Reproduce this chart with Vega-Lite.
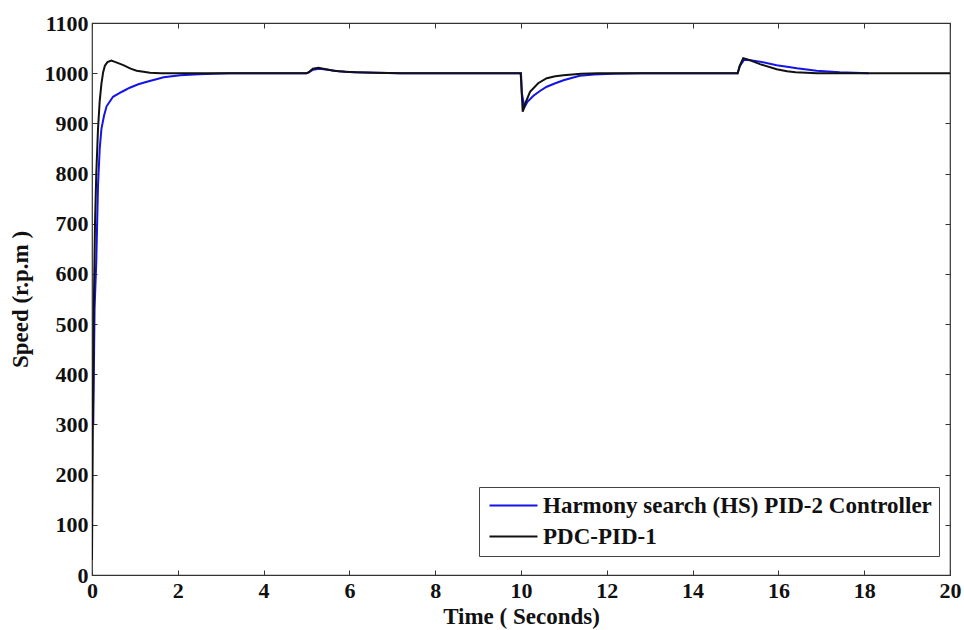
{
  "$schema": "https://vega.github.io/schema/vega-lite/v6.json",
  "width": 858,
  "height": 552,
  "autosize": {"type": "none"},
  "padding": {"left": 92, "top": 23, "right": 14, "bottom": 55},
  "background": "white",
  "config": {
    "view": {"stroke": "#333333", "strokeWidth": 1.2},
    "axis": {
      "labelFont": "Liberation Serif",
      "labelFontWeight": "bold",
      "labelFontSize": 22,
      "labelColor": "#111111",
      "titleFont": "Liberation Serif",
      "titleFontWeight": "bold",
      "titleFontSize": 23,
      "titleColor": "#111111",
      "grid": false,
      "domain": false,
      "tickColor": "#333333",
      "tickSize": -5,
      "tickWidth": 1,
      "format": "d"
    },
    "legend": {
      "labelFont": "Liberation Serif",
      "labelFontWeight": "bold",
      "labelFontSize": 23,
      "labelColor": "#111111",
      "labelLimit": 0
    }
  },
  "datasets": {
    "curves": [
      {"series": "Harmony search (HS) PID-2 Controller", "t": 0.03, "v": 300},
      {"series": "Harmony search (HS) PID-2 Controller", "t": 0.06, "v": 530},
      {"series": "Harmony search (HS) PID-2 Controller", "t": 0.10, "v": 626},
      {"series": "Harmony search (HS) PID-2 Controller", "t": 0.14, "v": 776},
      {"series": "Harmony search (HS) PID-2 Controller", "t": 0.18, "v": 850},
      {"series": "Harmony search (HS) PID-2 Controller", "t": 0.22, "v": 889},
      {"series": "Harmony search (HS) PID-2 Controller", "t": 0.28, "v": 915},
      {"series": "Harmony search (HS) PID-2 Controller", "t": 0.34, "v": 934},
      {"series": "Harmony search (HS) PID-2 Controller", "t": 0.49, "v": 953},
      {"series": "Harmony search (HS) PID-2 Controller", "t": 0.70, "v": 963},
      {"series": "Harmony search (HS) PID-2 Controller", "t": 0.88, "v": 971},
      {"series": "Harmony search (HS) PID-2 Controller", "t": 1.08, "v": 978},
      {"series": "Harmony search (HS) PID-2 Controller", "t": 1.28, "v": 983},
      {"series": "Harmony search (HS) PID-2 Controller", "t": 1.50, "v": 988},
      {"series": "Harmony search (HS) PID-2 Controller", "t": 1.67, "v": 992},
      {"series": "Harmony search (HS) PID-2 Controller", "t": 2.06, "v": 996},
      {"series": "Harmony search (HS) PID-2 Controller", "t": 2.50, "v": 998},
      {"series": "Harmony search (HS) PID-2 Controller", "t": 2.84, "v": 999},
      {"series": "Harmony search (HS) PID-2 Controller", "t": 3.20, "v": 1000},
      {"series": "Harmony search (HS) PID-2 Controller", "t": 5.00, "v": 1000},
      {"series": "Harmony search (HS) PID-2 Controller", "t": 5.05, "v": 1001},
      {"series": "Harmony search (HS) PID-2 Controller", "t": 5.15, "v": 1007},
      {"series": "Harmony search (HS) PID-2 Controller", "t": 5.30, "v": 1009},
      {"series": "Harmony search (HS) PID-2 Controller", "t": 5.50, "v": 1007},
      {"series": "Harmony search (HS) PID-2 Controller", "t": 5.75, "v": 1004},
      {"series": "Harmony search (HS) PID-2 Controller", "t": 6.10, "v": 1002},
      {"series": "Harmony search (HS) PID-2 Controller", "t": 6.60, "v": 1001},
      {"series": "Harmony search (HS) PID-2 Controller", "t": 7.20, "v": 1000},
      {"series": "Harmony search (HS) PID-2 Controller", "t": 10.00, "v": 1000},
      {"series": "Harmony search (HS) PID-2 Controller", "t": 10.02, "v": 960},
      {"series": "Harmony search (HS) PID-2 Controller", "t": 10.08, "v": 932},
      {"series": "Harmony search (HS) PID-2 Controller", "t": 10.15, "v": 943},
      {"series": "Harmony search (HS) PID-2 Controller", "t": 10.29, "v": 955},
      {"series": "Harmony search (HS) PID-2 Controller", "t": 10.45, "v": 965},
      {"series": "Harmony search (HS) PID-2 Controller", "t": 10.60, "v": 973},
      {"series": "Harmony search (HS) PID-2 Controller", "t": 10.80, "v": 980},
      {"series": "Harmony search (HS) PID-2 Controller", "t": 10.99, "v": 986},
      {"series": "Harmony search (HS) PID-2 Controller", "t": 11.20, "v": 991},
      {"series": "Harmony search (HS) PID-2 Controller", "t": 11.37, "v": 995},
      {"series": "Harmony search (HS) PID-2 Controller", "t": 11.70, "v": 997.5},
      {"series": "Harmony search (HS) PID-2 Controller", "t": 12.15, "v": 999},
      {"series": "Harmony search (HS) PID-2 Controller", "t": 12.80, "v": 1000},
      {"series": "Harmony search (HS) PID-2 Controller", "t": 15.05, "v": 1000},
      {"series": "Harmony search (HS) PID-2 Controller", "t": 15.10, "v": 1014},
      {"series": "Harmony search (HS) PID-2 Controller", "t": 15.20, "v": 1027},
      {"series": "Harmony search (HS) PID-2 Controller", "t": 15.35, "v": 1026},
      {"series": "Harmony search (HS) PID-2 Controller", "t": 15.57, "v": 1023},
      {"series": "Harmony search (HS) PID-2 Controller", "t": 15.96, "v": 1016},
      {"series": "Harmony search (HS) PID-2 Controller", "t": 16.20, "v": 1013},
      {"series": "Harmony search (HS) PID-2 Controller", "t": 16.43, "v": 1010},
      {"series": "Harmony search (HS) PID-2 Controller", "t": 16.89, "v": 1005},
      {"series": "Harmony search (HS) PID-2 Controller", "t": 17.43, "v": 1002},
      {"series": "Harmony search (HS) PID-2 Controller", "t": 18.10, "v": 1000},
      {"series": "PDC-PID-1", "t": 0.00, "v": 30},
      {"series": "PDC-PID-1", "t": 0.02, "v": 300},
      {"series": "PDC-PID-1", "t": 0.04, "v": 520},
      {"series": "PDC-PID-1", "t": 0.07, "v": 700},
      {"series": "PDC-PID-1", "t": 0.10, "v": 800},
      {"series": "PDC-PID-1", "t": 0.14, "v": 889},
      {"series": "PDC-PID-1", "t": 0.18, "v": 945},
      {"series": "PDC-PID-1", "t": 0.22, "v": 979},
      {"series": "PDC-PID-1", "t": 0.26, "v": 1002},
      {"series": "PDC-PID-1", "t": 0.30, "v": 1015},
      {"series": "PDC-PID-1", "t": 0.36, "v": 1022},
      {"series": "PDC-PID-1", "t": 0.45, "v": 1025},
      {"series": "PDC-PID-1", "t": 0.55, "v": 1022},
      {"series": "PDC-PID-1", "t": 0.73, "v": 1016},
      {"series": "PDC-PID-1", "t": 0.90, "v": 1009},
      {"series": "PDC-PID-1", "t": 1.04, "v": 1005},
      {"series": "PDC-PID-1", "t": 1.20, "v": 1003},
      {"series": "PDC-PID-1", "t": 1.35, "v": 1001},
      {"series": "PDC-PID-1", "t": 1.60, "v": 1000},
      {"series": "PDC-PID-1", "t": 5.00, "v": 1000},
      {"series": "PDC-PID-1", "t": 5.05, "v": 1002},
      {"series": "PDC-PID-1", "t": 5.15, "v": 1009},
      {"series": "PDC-PID-1", "t": 5.28, "v": 1011},
      {"series": "PDC-PID-1", "t": 5.45, "v": 1008},
      {"series": "PDC-PID-1", "t": 5.63, "v": 1005},
      {"series": "PDC-PID-1", "t": 5.90, "v": 1003},
      {"series": "PDC-PID-1", "t": 6.17, "v": 1002},
      {"series": "PDC-PID-1", "t": 6.60, "v": 1001},
      {"series": "PDC-PID-1", "t": 7.20, "v": 1000},
      {"series": "PDC-PID-1", "t": 9.99, "v": 1000},
      {"series": "PDC-PID-1", "t": 10.00, "v": 990},
      {"series": "PDC-PID-1", "t": 10.04, "v": 923},
      {"series": "PDC-PID-1", "t": 10.10, "v": 940},
      {"series": "PDC-PID-1", "t": 10.21, "v": 963},
      {"series": "PDC-PID-1", "t": 10.40, "v": 980},
      {"series": "PDC-PID-1", "t": 10.60, "v": 990},
      {"series": "PDC-PID-1", "t": 10.80, "v": 994},
      {"series": "PDC-PID-1", "t": 10.99, "v": 996},
      {"series": "PDC-PID-1", "t": 11.40, "v": 999},
      {"series": "PDC-PID-1", "t": 11.80, "v": 1000},
      {"series": "PDC-PID-1", "t": 15.05, "v": 1000},
      {"series": "PDC-PID-1", "t": 15.10, "v": 1015},
      {"series": "PDC-PID-1", "t": 15.18, "v": 1030},
      {"series": "PDC-PID-1", "t": 15.30, "v": 1027},
      {"series": "PDC-PID-1", "t": 15.57, "v": 1018},
      {"series": "PDC-PID-1", "t": 15.96, "v": 1008},
      {"series": "PDC-PID-1", "t": 16.20, "v": 1004},
      {"series": "PDC-PID-1", "t": 16.40, "v": 1002},
      {"series": "PDC-PID-1", "t": 16.90, "v": 1000},
      {"series": "PDC-PID-1", "t": 20.00, "v": 1000}
    ]
  },
  "data": {"name": "curves"},
  "layer": [
    {
      "transform": [{"filter": "datum.series === 'Harmony search (HS) PID-2 Controller'"}],
      "mark": {"type": "line", "strokeWidth": 2, "clip": true},
      "encoding": {
        "x": {
          "field": "t", "type": "quantitative",
          "scale": {"domain": [0, 20], "nice": false},
          "axis": {"orient": "bottom", "values": [0, 2, 4, 6, 8, 10, 12, 14, 16, 18, 20], "title": "Time ( Seconds)", "labelPadding": 10, "titlePadding": 4, "labelFlush": false}
        },
        "y": {
          "field": "v", "type": "quantitative",
          "scale": {"domain": [0, 1100], "nice": false, "zero": false},
          "axis": {"orient": "left", "values": [0, 100, 200, 300, 400, 500, 600, 700, 800, 900, 1000, 1100], "title": "Speed (r.p.m )", "labelPadding": 9, "titlePadding": 12, "labelFlush": false}
        },
        "color": {
          "field": "series", "type": "nominal",
          "scale": {"domain": ["Harmony search (HS) PID-2 Controller", "PDC-PID-1"], "range": ["#1414e6", "#111111"]},
          "legend": {
            "title": null,
            "orient": "none",
            "legendX": 387,
            "legendY": 464,
            "strokeColor": "#444444",
            "fillColor": "white",
            "padding": 7,
            "symbolType": "M-0.8,0H4",
            "symbolSize": 400,
            "symbolStrokeWidth": 2,
            "labelOffset": 34,
            "rowPadding": 7
          }
        }
      }
    },
    {
      "transform": [{"filter": "datum.series === 'PDC-PID-1'"}],
      "mark": {"type": "line", "strokeWidth": 2, "clip": true},
      "encoding": {
        "x": {"field": "t", "type": "quantitative", "axis": null},
        "y": {"field": "v", "type": "quantitative", "axis": null},
        "color": {"field": "series", "type": "nominal"}
      }
    },
    {
      "mark": {"type": "point", "opacity": 0},
      "encoding": {
        "x": {"field": "t", "type": "quantitative", "axis": {"orient": "top", "values": [0, 2, 4, 6, 8, 10, 12, 14, 16, 18, 20], "labels": false, "title": null}},
        "y": {"field": "v", "type": "quantitative", "axis": {"orient": "right", "values": [0, 100, 200, 300, 400, 500, 600, 700, 800, 900, 1000, 1100], "labels": false, "title": null}}
      }
    }
  ],
  "resolve": {"axis": {"x": "independent", "y": "independent"}}
}
